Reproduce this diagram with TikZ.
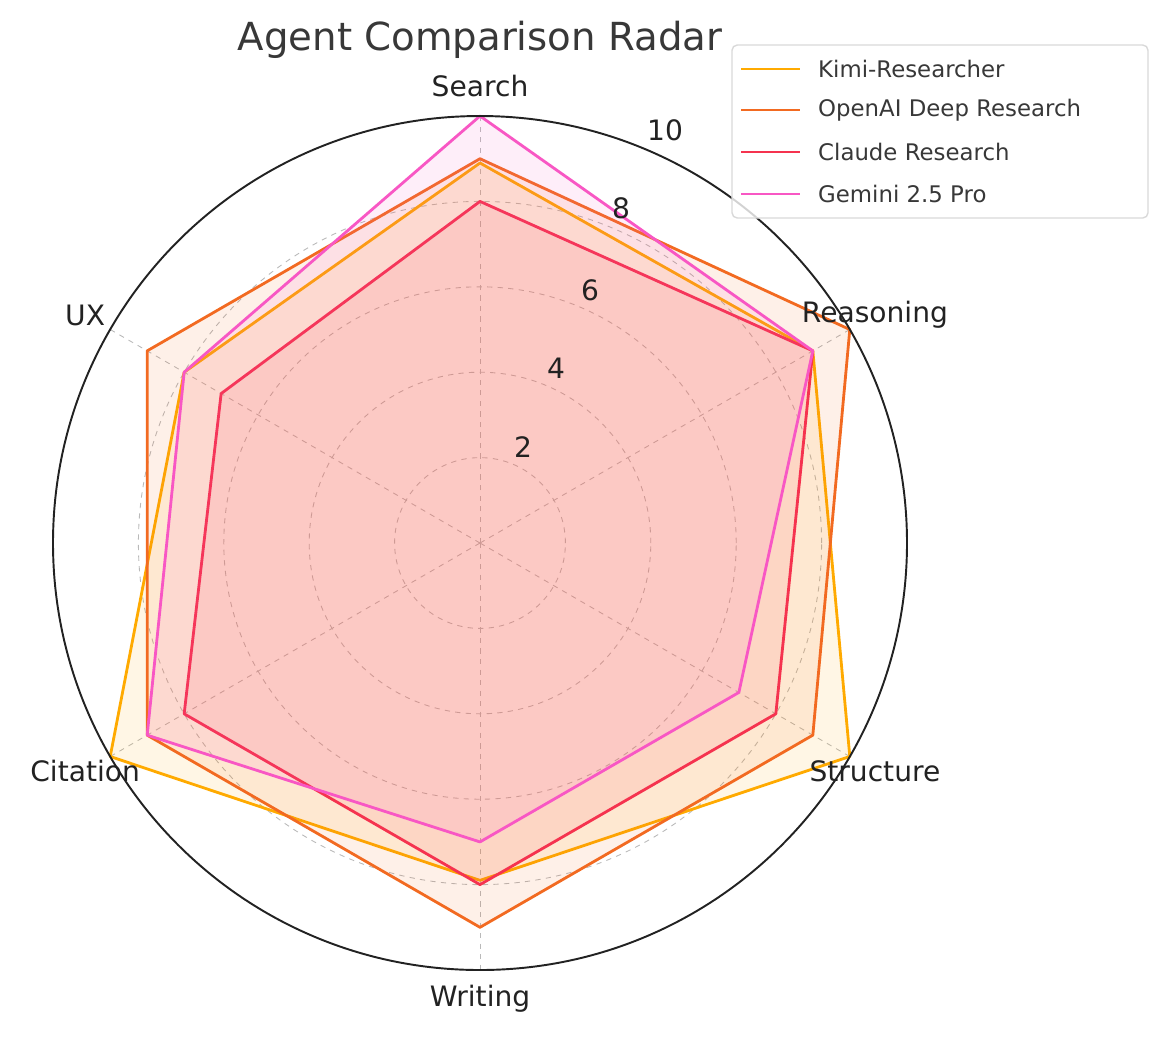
\documentclass[tikz,border=0pt]{standalone}
\usepackage{fontspec}
\setmainfont{DejaVu Sans}
\definecolor{kimi}{HTML}{FFAA00}
\definecolor{oai}{HTML}{F26A21}
\definecolor{cla}{HTML}{F5334F}
\definecolor{gem}{HTML}{F857C4}
\definecolor{txt}{HTML}{222222}
\tikzset{gridc/.style={draw=gray!55,dashed,line width=0.5pt},
ser/.style={line width=1.6pt,line join=round,fill opacity=0.1,draw opacity=1},
axl/.style={font=\fontsize{16}{18}\selectfont,text=txt},
tkl/.style={font=\fontsize{16}{18}\selectfont,text=txt},
lg/.style={font=\fontsize{13}{15}\selectfont,text=txt!90,anchor=west}}
\begin{document}
\begin{tikzpicture}[x=0.02cm,y=0.02cm]
\useasboundingbox (0,0) rectangle (1169,-1036);
\begin{scope}[shift={(480,-543)}]
\coordinate (O) at (0,0);
\foreach \r in {2,4,6,8} \draw[gridc] (O) circle ({\r*42.7});
\foreach \a in {90,30,-30,-90,210,150} \draw[gridc] (O) -- (\a:427);
\draw[ser,draw=kimi,fill=kimi] (90:{8.9*42.7}) -- (30:{9*42.7}) -- (-30:{10*42.7}) -- (-90:{7.9*42.7}) -- (210:{10*42.7}) -- (150:{8*42.7}) -- cycle;
\draw[ser,draw=oai,fill=oai] (90:{9*42.7}) -- (30:{10*42.7}) -- (-30:{9*42.7}) -- (-90:{9*42.7}) -- (210:{9*42.7}) -- (150:{9*42.7}) -- cycle;
\draw[ser,draw=cla,fill=cla] (90:{8*42.7}) -- (30:{9*42.7}) -- (-30:{8*42.7}) -- (-90:{8*42.7}) -- (210:{8*42.7}) -- (150:{7*42.7}) -- cycle;
\draw[ser,draw=gem,fill=gem] (90:{10*42.7}) -- (30:{9*42.7}) -- (-30:{7*42.7}) -- (-90:{7*42.7}) -- (210:{9*42.7}) -- (150:{8*42.7}) -- cycle;
\draw[txt,line width=1.1pt] (O) circle (427);
\node[axl] (lS) at (90:457) {Search};
\node[axl] (lR) at (30:456) {Reasoning};
\node[axl] (lT) at (-30:456) {Structure};
\node[axl] (lW) at (-90:456) {Writing};
\node[axl] (lC) at (210:456) {Citation};
\node[axl] (lU) at (150:456) {UX};
\end{scope}
\node[tkl] (t2) at (523,-447) {2};
\node[tkl] (t4) at (556,-368) {4};
\node[tkl] (t6) at (590,-290) {6};
\node[tkl] (t8) at (621,-208) {8};
\node[tkl] (t10) at (665,-130) {10};
\node[font=\fontsize{22}{26}\selectfont,text=txt!90] (title) at (480,-40) {Agent Comparison Radar};
\draw[gray!30,fill=white,fill opacity=0.8,rounded corners=3pt,line width=0.8pt] (732,-45) rectangle (1148,-218);
\foreach \y/\c/\t [count=\i] in {69/kimi/Kimi-Researcher,110/oai/OpenAI Deep Research,152/cla/Claude Research,194/gem/Gemini 2.5 Pro}{
\draw[\c,line width=1.6pt] (741,-\y) -- (800,-\y);
\node[lg] (leg\i) at (812,-\y) {\t};}
\end{tikzpicture}
\end{document}
